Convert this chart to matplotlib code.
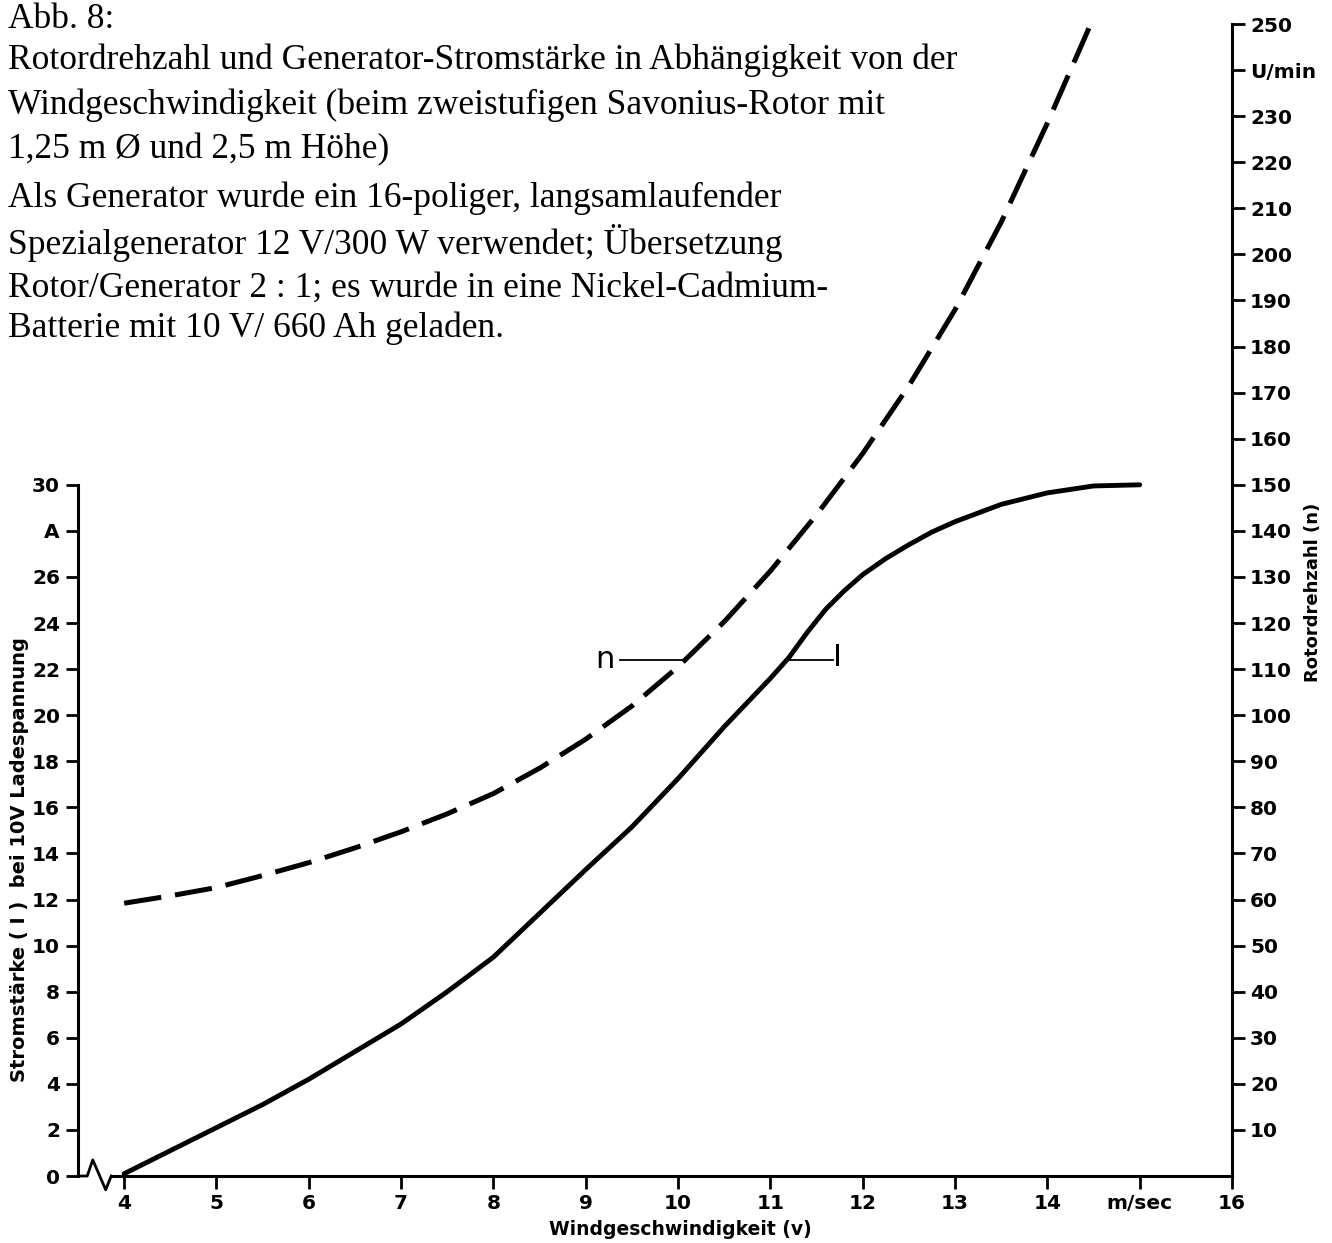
import matplotlib
matplotlib.use("Agg")
import matplotlib.pyplot as plt

# wind speed (m/s) and generator current (A) at 10 V charging voltage
wind_i = [4.0, 4.5, 5.0, 5.5, 6.0, 6.5, 7.0, 7.5, 8.0, 8.5, 9.0, 9.5, 10.0,
          10.5, 11.0, 11.2, 11.4, 11.6, 11.8, 12.0, 12.25, 12.5, 12.75, 13.0,
          13.5, 14.0, 14.5, 15.0]
current = [0.1, 1.1, 2.1, 3.1, 4.2, 5.4, 6.6, 8.0, 9.5, 11.4, 13.3, 15.15, 17.25,
           19.5, 21.6, 22.5, 23.6, 24.6, 25.4, 26.1, 26.8, 27.4, 27.95, 28.4,
           29.15, 29.65, 29.95, 30.0]

# wind speed (m/s) and rotor speed (U/min)
wind_n = [4.0, 4.5, 5.0, 5.5, 6.0, 6.5, 7.0, 7.5, 8.0, 8.5, 9.0, 9.5, 10.0,
          10.5, 11.0, 11.5, 12.0, 12.5, 13.0, 13.5, 14.0, 14.47]
rpm = [59.2, 60.8, 62.6, 65.2, 68.0, 71.2, 74.7, 78.6, 83.0, 88.5, 94.8, 102.0,
       110.5, 120.3, 131.3, 143.5, 156.8, 171.5, 188.0, 207.0, 228.5, 250.0]

x_ticks = [4, 5, 6, 7, 8, 9, 10, 11, 12, 13, 14, 15, 16]
x_labels = ["4", "5", "6", "7", "8", "9", "10", "11", "12", "13", "14", "m/sec", "16"]
left_ticks = list(range(0, 31, 2))
left_labels = [str(t) for t in left_ticks]
left_labels[14] = "A"
right_ticks = list(range(10, 251, 10))
right_labels = [str(t) for t in right_ticks]
right_labels[23] = "U/min"

title_lines = [
    "Abb. 8:",
    "Rotordrehzahl und Generator-Stromstärke in Abhängigkeit von der",
    "Windgeschwindigkeit (beim zweistufigen Savonius-Rotor mit",
    "1,25 m Ø und 2,5 m Höhe)",
    "Als Generator wurde ein 16-poliger, langsamlaufender",
    "Spezialgenerator 12 V/300 W verwendet; Übersetzung",
    "Rotor/Generator 2 : 1; es wurde in eine Nickel-Cadmium-",
    "Batterie mit 10 V/ 660 Ah geladen.",
]
title_y = [20, 60, 105, 150, 198, 243, 288, 328]

W, H = 1332, 1243
fig = plt.figure(figsize=(W / 100, H / 100), dpi=100)
ax = fig.add_axes([78 / W, 1 - 1176 / H, (1232 - 78) / W, (1176 - 24) / H])
ax2 = ax.twinx()

ax.set_xlim(3.5, 16)
ax.set_ylim(0, 50)
ax2.set_ylim(0, 250)

ax.plot(wind_i, current, color="black", lw=3.5, solid_capstyle="round",
        solid_joinstyle="round")
ax2.plot(wind_n, rpm, color="black", lw=3.6, dashes=(7.5, 2.8))

# curve labels
ax.plot([9.37, 10.1], [22.4, 22.4], color="black", lw=1.3)
ax.text(9.21, 22.4, "n", fontsize=22, ha="center", va="center")
ax.plot([11.16, 11.68], [22.4, 22.4], color="black", lw=1.3)
ax.text(11.73, 22.5, "I", fontsize=22, ha="center", va="center")

bold = dict(fontsize=14.5, fontweight="bold")

for s in ["top", "right"]:
    ax.spines[s].set_visible(False)
for s in ["top", "left", "bottom"]:
    ax2.spines[s].set_visible(False)
ax.spines["left"].set_bounds(0, 30)
ax.spines["bottom"].set_bounds(3.86, 16)
ax2.spines["right"].set_bounds(0, 250)
for sp in [ax.spines["left"], ax.spines["bottom"], ax2.spines["right"]]:
    sp.set_linewidth(2.2)

# axis break
ax.plot([3.5, 3.6, 3.66, 3.8, 3.86], [0, 0, 0.7, -0.6, 0], color="black",
        lw=2.0, clip_on=False)

ax.set_xticks(x_ticks)
ax.set_xticklabels(x_labels, **bold)
ax.set_yticks(left_ticks)
ax.set_yticklabels(left_labels, **bold)
ax2.set_yticks(right_ticks)
ax2.set_yticklabels(right_labels, **bold)
ax.tick_params(axis="both", direction="out", length=9, width=2, pad=4)
ax2.tick_params(axis="y", direction="out", length=9, width=2, pad=4)

ax.set_xlabel("Windgeschwindigkeit (v)", fontsize=13.5, fontweight="bold")
ax.xaxis.set_label_coords((680 - 78) / (1232 - 78), -0.038)

fig.text(20 / W, 1 - 860 / H, "Stromstärke ( I )  bei 10V Ladespannung",
         rotation=90, ha="center", va="center", fontsize=14, fontweight="bold")
fig.text(1313 / W, 1 - 592 / H, "Rotordrehzahl (n)", rotation=90,
         ha="center", va="center", fontsize=13, fontweight="bold")

for line, y in zip(title_lines, title_y):
    fig.text(8 / W, 1 - y / H, line, family="Liberation Serif", fontsize=25.5,
             ha="left", va="center")

fig.savefig("out.png", dpi=100)
